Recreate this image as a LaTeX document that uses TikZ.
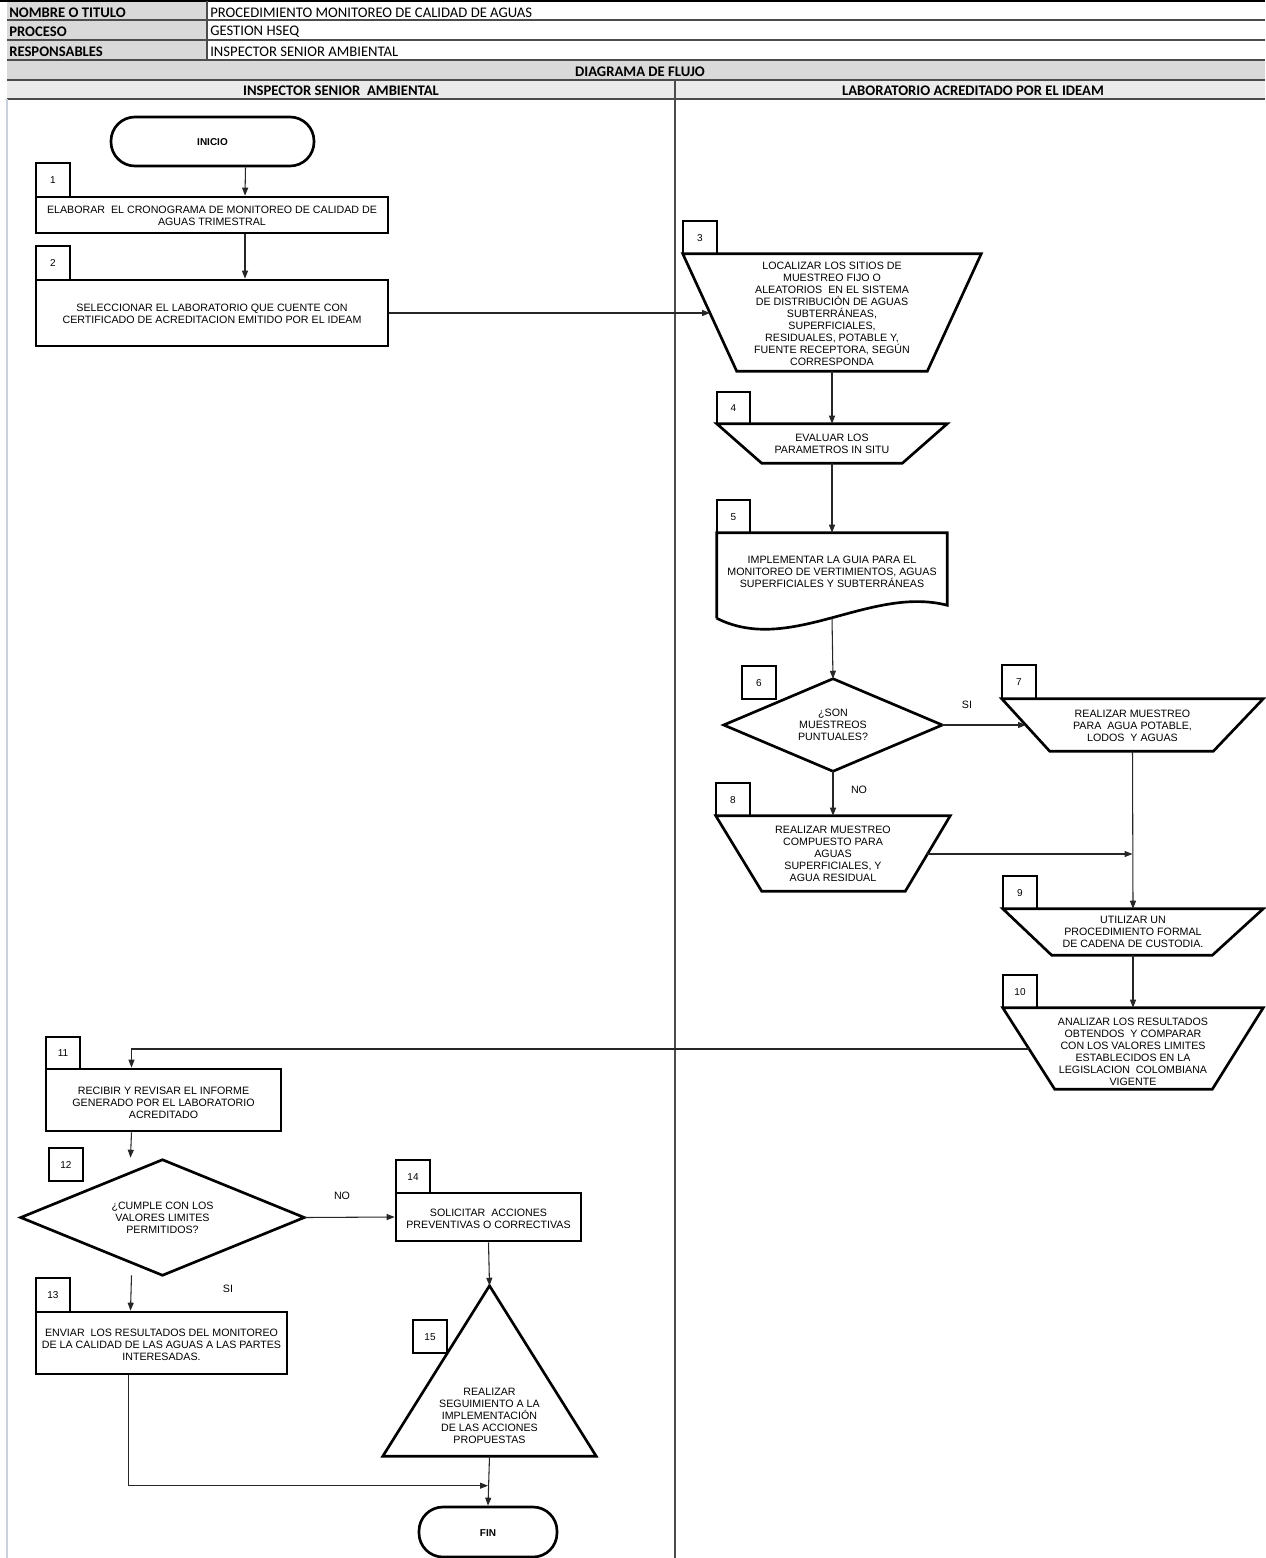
\documentclass[tikz,border=0pt]{standalone}
\usepackage{fontspec}
\setmainfont{Liberation Sans}
\newfontfamily\hdrfont{Carlito}
\usetikzlibrary{arrows.meta,calc,fit}
\newcommand\boxfont{\fontsize{8}{9}\selectfont}
\newcommand\numfont{\fontsize{7.5}{9}\selectfont}
\definecolor{gridc}{HTML}{C9D1DE}
\begin{document}
\begin{tikzpicture}[x=0.75pt,y=-0.75pt,
  shp/.style={draw=black, line width=2pt, inner sep=0pt},
  area/.style={inner sep=0pt},
  txt/.style={inner sep=0pt, align=center, font=\boxfont},
  numbox/.style={draw=black, line width=2pt, inner sep=0pt},
  numtxt/.style={inner sep=0pt, font=\numfont},
  outl/.style={draw=black, line width=2pt, line join=miter},
  arr/.style={draw=black!85, line width=0.8pt, -{Triangle[length=6pt,width=4.5pt]}},
  lbl/.style={font=\boxfont, inner sep=0pt},
  hdrb/.style={font=\hdrfont\bfseries\fontsize{11}{13}\selectfont, inner sep=0pt},
  hdrr/.style={font=\hdrfont\fontsize{11}{13}\selectfont, inner sep=0pt},
  hline/.style={draw=black!70, line width=0.9pt},
]
\useasboundingbox (0,0) rectangle (1265,1558);
\fill[white] (0,0) rectangle (1265,1558);
% ---------- header ----------
\fill[black!15] (7,1) rectangle (207,60);
\fill[black!15] (7,60) rectangle (1265,80);
\fill[black!8] (7,80) rectangle (1265,99);
\draw[black, line width=1.5pt] (0,1) -- (1265,1);
\draw[hline] (7,20) -- (1265,20);
\draw[hline] (7,40) -- (1265,40);
\draw[hline] (7,60) -- (1265,60);
\draw[hline] (7,80) -- (1265,80);
\draw[hline] (7,99) -- (1265,99);
\draw[hline] (207,1) -- (207,60);
\draw[hline] (675,80) -- (675,1558);
\draw[gridc, line width=0.8pt] (7,99) -- (7,1558);

\node[hdrb, anchor=west] (h1) at (9,12.5) {NOMBRE O TITULO};
\node[hdrr, anchor=west] (h1v) at (210,12.5) {PROCEDIMIENTO MONITOREO DE CALIDAD DE AGUAS};
\node[hdrb, anchor=west] (h2) at (9,32) {PROCESO};
\node[hdrr, anchor=west] (h2v) at (210,32) {GESTION HSEQ};
\node[hdrb, anchor=west] (h3) at (9,51.5) {RESPONSABLES};
\node[hdrr, anchor=west] (h3v) at (210,51.5) {INSPECTOR SENIOR AMBIENTAL};
\node[hdrb] (h4) at (640,71.5) {DIAGRAMA DE FLUJO};
\node[hdrb] (h5a) at (341,90.5) {INSPECTOR SENIOR\ \ AMBIENTAL};
\node[hdrb] (h5b) at (973,90.5) {LABORATORIO ACREDITADO POR EL IDEAM};

% ---------- number boxes ----------
\foreach \nm/\xa/\ya/\xb/\yb in {1/36/163/70/197, 2/36/246/70/280, 3/683/221/717/254,
  4/717/392/750/424, 5/717/500/750/533, 6/742/666/776/699, 7/1002/665/1036/699,
  8/716/783/750/816, 9/1003/876/1037/909, 10/1003/975/1037/1008, 11/46/1037/80/1069,
  12/49/1148/83/1181, 13/36/1278/70/1312, 14/396/1160/430/1193, 15/413/1320/447/1353}{
  \node[numbox, fit={(\xa,\ya)(\xb,\yb)}] (k\nm) {};
  \node[numtxt] (c\nm) at ($(k\nm.center)+(0,0.5)$) {\nm};
}

% ---------- left lane, top ----------
\node[shp, fit={(111,117)(314,166)}, rounded corners=18pt] (inicio) {};
\node[txt, font=\bfseries\fontsize{7.5}{9}\selectfont] (tinicio) at ($(inicio.center)+(0,1)$) {INICIO};
\node[shp, fit={(36,197)(388,233)}] (n1) {};
\node[txt] (t1) at ($(n1.center)+(0,1)$) {ELABORAR\ \ EL CRONOGRAMA DE MONITOREO DE CALIDAD DE\\AGUAS TRIMESTRAL};
\node[shp, fit={(36,280)(388,346)}] (n2) {};
\node[txt] (t2) at ($(n2.center)+(0,1)$) {SELECCIONAR EL LABORATORIO QUE CUENTE CON\\CERTIFICADO DE ACREDITACION EMITIDO POR EL IDEAM};

% ---------- right lane ----------
\node[area, fit={(683,254)(981,371)}] (n3) {};
\draw[outl] (n3.north west) -- (n3.north east) -- ($(n3.south east)+(-54,0)$) -- ($(n3.south west)+(54,0)$) -- cycle;
\node[txt] (t3) at ($(n3.center)+(0,1)$) {LOCALIZAR LOS SITIOS DE\\MUESTREO FIJO O\\ALEATORIOS\ \ EN EL SISTEMA\\DE DISTRIBUCIÓN DE AGUAS\\SUBTERRÁNEAS,\\SUPERFICIALES,\\RESIDUALES, POTABLE Y,\\FUENTE RECEPTORA, SEGÚN\\CORRESPONDA};
\coordinate (n3w) at (710,313);

\node[area, fit={(717,424)(947,463)}] (n4) {};
\draw[outl] (n4.north west) -- (n4.north east) -- ($(n4.south east)+(-45,0)$) -- ($(n4.south west)+(45,0)$) -- cycle;
\node[txt] (t4) at ($(n4.center)+(0,0)$) {EVALUAR LOS\\PARAMETROS IN SITU};

\node[area, fit={(717,533)(947,605)}] (n5) {};
\draw[outl] (n5.south west) ++(0,13) -- (n5.north west) -- (n5.north east) -- (n5.south east)
  .. controls +(-77,-20) and +(73,37) .. ($(n5.south west)+(0,13)$);
\node[txt] (t5) at ($(n5.center)+(0,3)$) {IMPLEMENTAR LA GUIA PARA EL\\MONITOREO DE VERTIMIENTOS, AGUAS\\SUPERFICIALES Y SUBTERRÁNEAS};

\node[area, fit={(724,679)(942,771)}] (n6) {};
\draw[outl] (n6.north) -- (n6.east) -- (n6.south) -- (n6.west) -- cycle;
\node[txt] (t6) at ($(n6.center)+(0,0)$) {¿SON\\MUESTREOS\\PUNTUALES?};

\node[area, fit={(1002,699)(1263,751)}] (n7) {};
\draw[outl] (n7.north west) -- (n7.north east) -- ($(n7.south east)+(-50,0)$) -- ($(n7.south west)+(48,0)$) -- cycle;
\node[txt] (t7) at ($(n7.center)+(0,1)$) {REALIZAR MUESTREO\\PARA\ \ AGUA POTABLE,\\LODOS\ \ Y AGUAS};
\coordinate (n7w) at (1026,725);

\node[area, fit={(716,816)(950,891)}] (n8) {};
\draw[outl] (n8.north west) -- (n8.north east) -- ($(n8.south east)+(-45,0)$) -- ($(n8.south west)+(46,0)$) -- cycle;
\node[txt] (t8) at ($(n8.center)+(0,0)$) {REALIZAR MUESTREO\\COMPUESTO PARA\\AGUAS\\SUPERFICIALES, Y\\AGUA RESIDUAL};
\coordinate (n8e) at (927,854);

\node[area, fit={(1003,909)(1263,955)}] (n9) {};
\draw[outl] (n9.north west) -- (n9.north east) -- ($(n9.south east)+(-51,0)$) -- ($(n9.south west)+(49,0)$) -- cycle;
\node[txt] (t9) at ($(n9.center)+(0,0)$) {UTILIZAR UN\\PROCEDIMIENTO FORMAL\\DE CADENA DE CUSTODIA.};

\node[area, fit={(1003,1008)(1263,1089)}] (n10) {};
\draw[outl] (n10.north west) -- (n10.north east) -- ($(n10.south east)+(-51,0)$) -- ($(n10.south west)+(52,0)$) -- cycle;
\node[txt] (t10) at ($(n10.center)+(0,3)$) {ANALIZAR LOS RESULTADOS\\OBTENDOS\ \ Y COMPARAR\\CON LOS VALORES LIMITES\\ESTABLECIDOS EN LA\\LEGISLACION\ \ COLOMBIANA\\VIGENTE};
\coordinate (n10w) at (1029,1049);

% ---------- left lane, bottom ----------
\node[shp, fit={(46,1069)(281,1131)}] (n11) {};
\node[txt] (t11) at ($(n11.center)+(0,3)$) {RECIBIR Y REVISAR EL INFORME\\GENERADO POR EL LABORATORIO\\ACREDITADO};

\node[area, fit={(21,1160)(304,1275)}] (n12) {};
\draw[outl] (n12.north) -- (n12.east) -- (n12.south) -- (n12.west) -- cycle;
\node[txt] (t12) at ($(n12.center)+(0,0)$) {¿CUMPLE CON LOS\\VALORES LIMITES\\PERMITIDOS?};

\node[shp, fit={(36,1312)(287,1374)}] (n13) {};
\node[txt] (t13) at ($(n13.center)+(0,2)$) {ENVIAR\ \ LOS RESULTADOS DEL MONITOREO\\DE LA CALIDAD DE LAS AGUAS A LAS PARTES\\INTERESADAS.};

\node[shp, fit={(396,1193)(581,1241)}] (n14) {};
\node[txt] (t14) at ($(n14.center)+(0,2)$) {SOLICITAR\ \ ACCIONES\\PREVENTIVAS O CORRECTIVAS};

\node[area, fit={(383,1286)(596,1456)}] (n15) {};
\draw[outl] (n15.north) -- (n15.south east) -- (n15.south west) -- cycle;
\node[txt] (t15) at ($(n15.south)+(0,-40)$) {REALIZAR\\SEGUIMIENTO A LA\\IMPLEMENTACIÓN\\DE LAS ACCIONES\\PROPUESTAS};

\node[shp, fit={(419,1507)(557,1557)}, rounded corners=18pt] (fin) {};
\node[txt, font=\bfseries\fontsize{7.5}{9}\selectfont] (tfin) at ($(fin.center)+(0,1)$) {FIN};

% ---------- labels ----------
\node[lbl] (si1) at (967,705) {SI};
\node[lbl] (no1) at (859,790) {NO};
\node[lbl] (no2) at (342,1196) {NO};
\node[lbl] (si2) at (228,1289) {SI};

% ---------- connectors ----------
\draw[arr] ($(inicio.south)+(33,0)$) -- ($(n1.north)+(33,0)$);
\draw[arr] ($(n1.south)+(33,0)$) -- ($(n2.north)+(33,0)$);
\draw[arr] (n2.east) -- (n3w);
\draw[arr] (n3.south) -- (n4.north);
\draw[arr] (n4.south) -- (n5.north);
\draw[arr] ($(n5.south)+(0,13)$) -- (n6.north);
\draw[arr] (n6.east) -- (n7w);
\draw[arr] (n6.south) -- (n8.north);
\draw[arr] (n7.south) -- (n9.north);
\draw[arr] (n8e) -- (n8e -| n7.south);
\draw[arr] (n9.south) -- (n10.north);
\draw[arr] (n10w) -| ($(n11.north)+(-32,0)$);
\draw[arr] ($(n11.south)+(-32,0)$) -- ($(n12.north)+(-32,-2)$);
\draw[arr] (n12.east) -- (n14.west);
\draw[arr] ($(n12.south)+(-31,0)$) -- ($(n13.north)+(-31,0)$);
\draw[arr] (n14.south) -- (n15.north);
\draw[arr] ($(n13.south)+(-33,0)$) |- ($(fin.north)+(0,-20)$);
\draw[arr] (n15.south) -- (fin.north);
\end{tikzpicture}
\end{document}
